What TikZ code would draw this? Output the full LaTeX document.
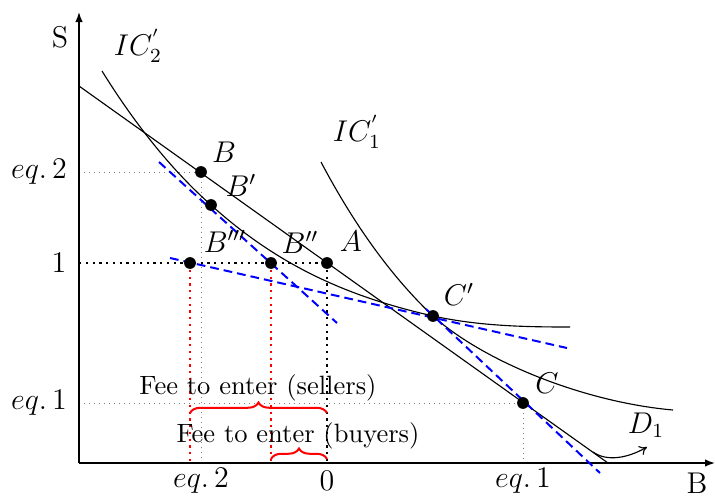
\documentclass[tikz,border=0pt]{standalone}
\usetikzlibrary{arrows.meta,decorations.pathreplacing}
\begin{document}
\begin{tikzpicture}[x=0.4pt,y=-0.4pt,
  dot/.style={circle,fill=black,inner sep=0pt,minimum size=4.7pt},
  lbl/.style={inner sep=0pt,font=\large},
  txt/.style={inner sep=0pt,font=\fontsize{10.6}{12}\selectfont},
  curve/.style={line width=0.45pt},
  guide/.style={gray, line width=0.4pt, dash pattern=on 0.4pt off 1.6pt},
  blackdots/.style={black, line width=0.9pt, dash pattern=on 0.9pt off 1.8pt},
  reddots/.style={red, line width=0.9pt, dash pattern=on 0.9pt off 1.8pt},
  tangent/.style={blue, line width=0.8pt, dash pattern=on 3.5pt off 2pt},
  fee/.style={red, line width=0.8pt, decorate, decoration={brace, amplitude=4.2pt}},
  axisline/.style={line width=0.6pt, -{Latex[length=4pt,width=3pt]}}]
\useasboundingbox (0,0) rectangle (715,496);

% points
\coordinate (pB) at (201,172);
\coordinate (pBp) at (211,205);
\coordinate (pBppp) at (190,263);
\coordinate (pBpp) at (271,263);
\coordinate (pA) at (327,263);
\coordinate (pCp) at (433,316);
\coordinate (pC) at (523,403);

% axis anchors
\coordinate (O) at (79,463);
\coordinate (Ytop) at (79,12);
\coordinate (Xend) at (715,463);
\coordinate (yE2) at (79,172);
\coordinate (yOne) at (79,263);
\coordinate (yE1) at (79,403);
\coordinate (xB) at (201,463);
\coordinate (xBppp) at (190,463);
\coordinate (xBpp) at (271,463);
\coordinate (xA) at (327,463);
\coordinate (xC) at (523,463);

% guides
\draw[guide] (yE2) -- (pB);
\draw[guide] (pB) -- (xB);
\draw[guide] (yE1) -- (pC);
\draw[guide] (pC) -- (xC);
\draw[blackdots] (yOne) -- (pA);
\draw[blackdots] (pA) -- (xA);
\draw[reddots] (pBppp) -- (xBppp);
\draw[reddots] (pBpp) -- (xBpp);

% axes
\draw[axisline] (O) -- (Ytop);
\draw[axisline] (O) -- (Xend);

% straight line D1
\coordinate (L0) at (79,86);
\coordinate (L1) at (608,463);
\draw[curve] (L0) -- (L1);

% IC'_2
\coordinate (ic2s) at (102,71);
\coordinate (ic2e) at (570,327);
\draw[curve] (ic2s) .. controls (138,129) and (175,173) .. (pBp)
  .. controls (285,272) and (359,299) .. (pCp)
  .. controls (479,326) and (524,327) .. (ic2e);

% IC'_1
\coordinate (ic1s) at (321,162);
\coordinate (ic1e) at (673,410);
\draw[curve] (ic1s) .. controls (358,232) and (396,281) .. (pCp)
  .. controls (483,361) and (583,402) .. (ic1e);

% tangents
\coordinate (t1a) at (159,162);
\coordinate (t1b) at (337,323);
\draw[tangent] (t1a) -- (t1b);
\coordinate (t2a) at (170,258);
\coordinate (t2b) at (567,348);
\draw[tangent] (t2a) -- (t2b);
\coordinate (t3a) at (426,309);
\coordinate (t3b) at (600,473);
\draw[tangent] (t3a) -- (t3b);

% D1 arrow
\coordinate (d1s) at (593,452);
\coordinate (d1e) at (647,447);
\draw[line width=0.45pt, -{To[length=3pt,width=4pt]}] (d1s) .. controls (607,462) and (628,458) .. (d1e);

% braces
\coordinate (brL) at (190,413);
\coordinate (brR) at (327,413);
\draw[fee] (brL) -- (brR);
\coordinate (bbL) at (271,459);
\coordinate (bbR) at (327,459);
\draw[fee] (bbL) -- (bbR);

% dots
\node[dot] (B) at (pB) {};
\node[dot] (Bp) at (pBp) {};
\node[dot] (Bppp) at (pBppp) {};
\node[dot] (Bpp) at (pBpp) {};
\node[dot] (A) at (pA) {};
\node[dot] (Cp) at (pCp) {};
\node[dot] (C) at (pC) {};

% labels
\node[lbl] (labS) at (60,37) {S};
\node[lbl] (labBax) at (697,483) {B};
\node[lbl] (labE2) at (39,172) {$eq.\,2$};
\node[lbl] (labOne) at (59,263) {$1$};
\node[lbl] (labE1) at (39,403) {$eq.\,1$};
\node[lbl] (labE2b) at (201,481) {$eq.\,2$};
\node[lbl] (labZero) at (327,481) {$0$};
\node[lbl] (labE1b) at (523,481) {$eq.\,1$};
\node[lbl] (labIC2) at (138,46) {$IC_2^{'}$};
\node[lbl] (labIC1) at (357,132) {$IC_1^{'}$};
\node[lbl] (labB) at (224,152) {$B$};
\node[lbl] (labBp) at (241,185) {$B'$};
\node[lbl] (labBppp) at (225,241) {$B'''$};
\node[lbl] (labBpp) at (300,242) {$B''$};
\node[lbl] (labA) at (351,241) {$A$};
\node[lbl] (labCp) at (459,294) {$C'$};
\node[lbl] (labC) at (547,383) {$C$};
\node[lbl] (labD1) at (646,425) {$D_1$};
\node[txt] (feeS) at (258,388) {Fee to enter (sellers)};
\node[txt] (feeB) at (298,436) {Fee to enter (buyers)};
\end{tikzpicture}
\end{document}
